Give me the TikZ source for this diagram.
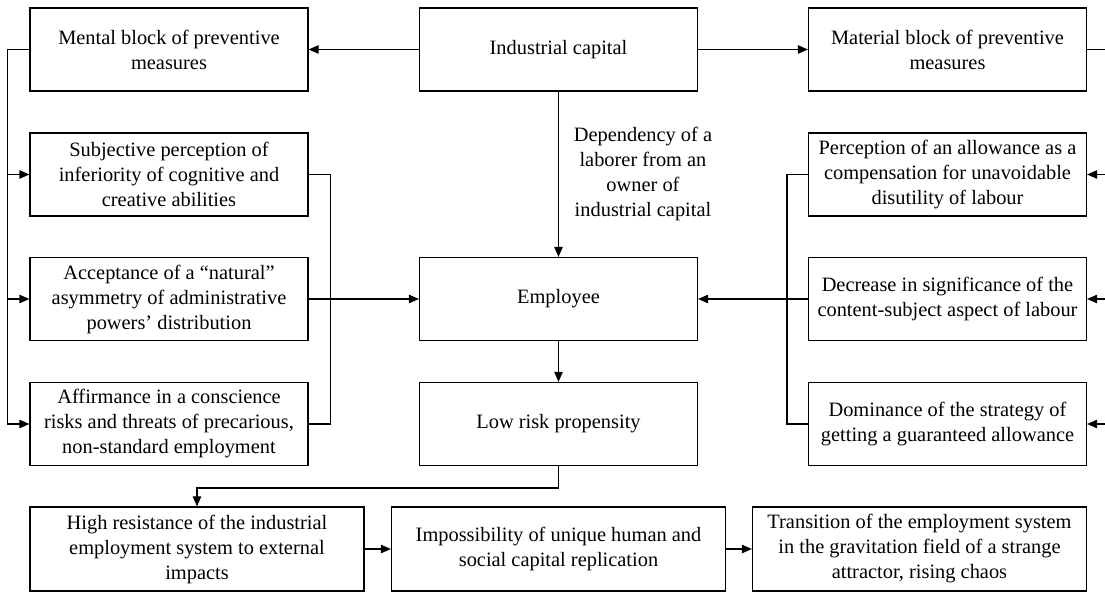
\documentclass[tikz,border=0pt]{standalone}
\usepackage{fontspec}
\setmainfont{Liberation Serif}
\usepackage{tikz}
\usetikzlibrary{positioning,arrows.meta}
\tikzset{
    class/.style={
        rectangle,
        draw=black,
        line width=0.6pt,
        text centered,
        align=center,
        inner sep=0pt,
        minimum width=139pt,
        minimum height=41.5pt,
        font=\fontsize{10.2pt}{12.5pt}\selectfont
    },
    wideclass/.style={
        class,
        minimum width=167pt,
        minimum height=42pt
    },
    arrow/.style={
        -{Triangle[length=5pt,width=4.2pt]},
        line width=0.6pt
    },
    line/.style={
        line width=0.6pt
    }
}

\begin{document}
\begin{tikzpicture}[x=0.5pt,y=-0.5pt]
            \useasboundingbox (0,0) rectangle (1105,592);
            \clip (0,0) rectangle (1105,592);
            \node (capital) [class] at (558.5,49.5) {Industrial capital};
            \node (mental) [class] at (169,49.5) {Mental block of preventive\\measures};
            \node (material) [class] at (947.5,49.5) {Material block of preventive\\measures};
            \node (subjective) [class] at (169,174.5) {Subjective perception of\\inferiority of cognitive and\\creative abilities};
            \node (acceptance) [class] at (169,299) {Acceptance of a ``natural''\\asymmetry of administrative\\powers' distribution};
            \node (affirmance) [class] at (169,424) {Affirmance in a conscience\\risks and threats of precarious,\\non-standard employment};
            \node (perception) [class] at (947.5,174.5) {Perception of an allowance as a\\compensation for unavoidable\\disutility of labour};
            \node (decrease) [class] at (947.5,299) {Decrease in significance of the\\content-subject aspect of labour};
            \node (dominance) [class] at (947.5,424) {Dominance of the strategy of\\getting a guaranteed allowance};
            \node (employee) [class] at (558.5,299) {Employee};
            \node (risk) [class] at (558.5,424) {Low risk propensity};
            \node (resistance) [wideclass] at (197,549) {High resistance of the industrial\\employment system to external\\impacts};
            \node (impossibility) [wideclass] at (558.5,549) {Impossibility of unique human and\\social capital replication};
            \node (transition) [wideclass] at (919.5,549) {Transition of the employment system\\in the gravitation field of a strange\\attractor, rising chaos};
            \node (dependency) [align=center, inner sep=0pt, font=\fontsize{10.2pt}{12.5pt}\selectfont] at (643,174) {Dependency of a\\laborer from an\\owner of\\industrial capital};
            \draw [arrow] (capital) -- (mental);
            \draw [arrow] (capital) -- (material);
            \draw [arrow] (capital) -- (employee);
            \draw [arrow] (mental.west) -- ++(-22,0) |- (subjective.west);
            \draw [arrow] (mental.west) -- ++(-22,0) |- (acceptance.west);
            \draw [arrow] (mental.west) -- ++(-22,0) |- (affirmance.west);
            \draw [line] (subjective.east) -- ++(22,0) |- (affirmance.east);
            \draw [arrow] (acceptance) -- (employee);
            \draw [line] (perception.west) -- ++(-21,0) |- (dominance.west);
            \draw [arrow] (decrease) -- (employee);
            \draw [arrow] (material.east) -- ++(26,0) |- (perception.east);
            \draw [arrow] (material.east) -- ++(26,0) |- (decrease.east);
            \draw [arrow] (material.east) -- ++(26,0) |- (dominance.east);
            \draw [arrow] (employee) -- (risk);
            \draw [arrow] (risk.south) -- ++(0,22) -| (resistance.north);
            \draw [arrow] (resistance) -- (impossibility);
            \draw [arrow] (impossibility) -- (transition);
        \end{tikzpicture}
\end{document}
